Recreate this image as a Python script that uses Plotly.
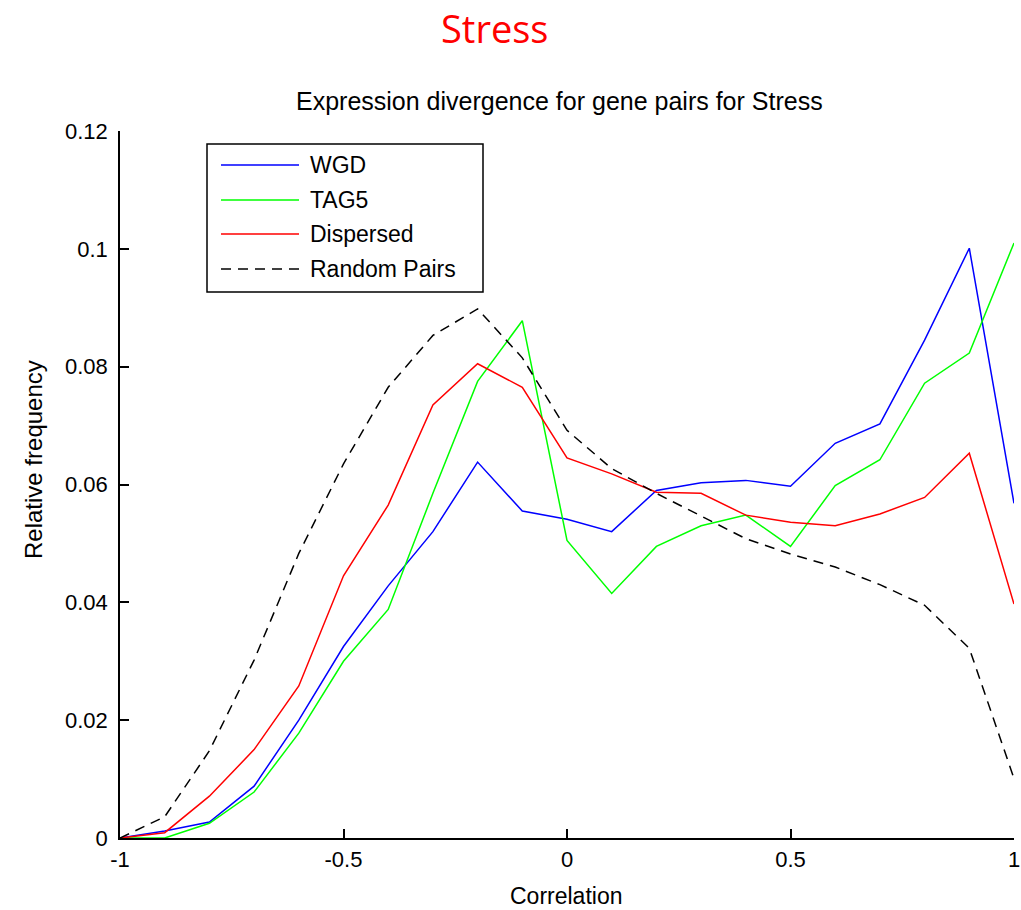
import plotly.graph_objects as go

# Correlation bins
correlation = [-1.0, -0.9, -0.8, -0.7, -0.6, -0.5, -0.4, -0.3, -0.2, -0.1, 0.0,
               0.1, 0.2, 0.3, 0.4, 0.5, 0.6, 0.7, 0.8, 0.9, 1.0]

# Relative frequency per gene-pair class
wgd = [0.0, 0.0012, 0.0027, 0.0088, 0.0200, 0.0325, 0.0428, 0.0520, 0.0638, 0.0555, 0.0541,
       0.0520, 0.0590, 0.0603, 0.0607, 0.0597, 0.0670, 0.0703, 0.0845, 0.1001, 0.0568]
tag5 = [0.0, 0.0, 0.0025, 0.0078, 0.0178, 0.0300, 0.0388, 0.0585, 0.0775, 0.0878, 0.0505,
        0.0415, 0.0495, 0.0530, 0.0548, 0.0495, 0.0598, 0.0642, 0.0772, 0.0823, 0.1010]
dispersed = [0.0, 0.0009, 0.0071, 0.0150, 0.0258, 0.0445, 0.0565, 0.0735, 0.0805, 0.0765, 0.0645,
             0.0618, 0.0587, 0.0585, 0.0548, 0.0536, 0.0530, 0.0550, 0.0578, 0.0653, 0.0397]
random_pairs = [0.0, 0.0036, 0.0148, 0.0302, 0.0483, 0.0635, 0.0765, 0.0853, 0.0898, 0.0815, 0.0692,
                0.0627, 0.0585, 0.0547, 0.0508, 0.0482, 0.0460, 0.0430, 0.0395, 0.0322, 0.0101]

series_names = ["WGD", "TAG5", "Dispersed", "Random Pairs"]
series_values = [wgd, tag5, dispersed, random_pairs]
series_colors = ["#0000ff", "#00ff00", "#ff0000", "#000000"]
series_dash = ["solid", "solid", "solid", "10px,7px"]

x_tickvals = [-1, -0.5, 0, 0.5, 1]
x_ticktext = ["-1", "-0.5", "0", "0.5", "1"]
y_tickvals = [0, 0.02, 0.04, 0.06, 0.08, 0.1, 0.12]
y_ticktext = ["0", "0.02", "0.04", "0.06", "0.08", "0.1", "0.12"]

W, H = 1021, 910
ML, MR, MT, MB = 120, 7, 131, 72
PW, PH = W - ML - MR, H - MT - MB
FONT = "Liberation Sans, Arial, sans-serif"


def px_x(px):
    return (px - ML) / PW


def px_y(py):
    return (H - MB - py) / PH


fig = go.Figure()
for name, vals, col, dash in zip(series_names, series_values, series_colors, series_dash):
    fig.add_trace(go.Scatter(x=correlation, y=vals, mode="lines", name=name,
                             line=dict(color=col, width=1.5, dash=dash),
                             showlegend=False))

axis_common = dict(showgrid=False, zeroline=False, showline=True, linecolor="black",
                   linewidth=1.5, ticks="inside", ticklen=9, tickwidth=1.5,
                   tickcolor="black", mirror=False, ticklabeloverflow="allow",
                   automargin=False,
                   tickfont=dict(family=FONT, size=22, color="black"))

fig.update_xaxes(range=[-1, 1], tickvals=x_tickvals, ticktext=x_ticktext,
                 ticklabelstandoff=1, **axis_common)
fig.update_yaxes(range=[0, 0.12], tickvals=y_tickvals, ticktext=y_ticktext,
                 ticklabelstandoff=6, **axis_common)

# Legend box drawn by hand
shapes = [dict(type="rect", xref="paper", yref="paper",
               x0=px_x(207), x1=px_x(483), y0=px_y(292), y1=px_y(144),
               line=dict(color="black", width=1.5), fillcolor="white", layer="above")]
annotations = []
row_y = [165, 200, 234, 269]
for name, col, dash, ry in zip(series_names, series_colors, series_dash, row_y):
    shapes.append(dict(type="line", xref="paper", yref="paper",
                       x0=px_x(221), x1=px_x(299), y0=px_y(ry), y1=px_y(ry),
                       line=dict(color=col, width=1.5, dash=dash), layer="above"))
    annotations.append(dict(text=name, xref="paper", yref="paper",
                            x=px_x(308), y=px_y(ry), xanchor="left", yanchor="middle",
                            showarrow=False, font=dict(family=FONT, size=23, color="black")))

annotations += [
    dict(text="Stress", xref="paper", yref="paper", x=px_x(494), y=px_y(28),
         xanchor="center", yanchor="middle", showarrow=False,
         font=dict(family="Open Sans, Carlito, sans-serif", size=38, color="#ff0000")),
    dict(text="Expression divergence for gene pairs for Stress", xref="paper", yref="paper",
         x=px_x(559), y=px_y(101), xanchor="center", yanchor="middle", showarrow=False,
         font=dict(family=FONT, size=25, color="black")),
    dict(text="Correlation", xref="paper", yref="paper", x=px_x(566), y=px_y(896),
         xanchor="center", yanchor="middle", showarrow=False,
         font=dict(family=FONT, size=23, color="black")),
    dict(text="Relative frequency", xref="paper", yref="paper", x=px_x(33), y=px_y(460),
         xanchor="center", yanchor="middle", showarrow=False, textangle=-90,
         font=dict(family=FONT, size=24, color="black")),
]

fig.update_layout(width=W, height=H, margin=dict(l=ML, r=MR, t=MT, b=MB, autoexpand=False),
                  paper_bgcolor="white", plot_bgcolor="white",
                  shapes=shapes, annotations=annotations, showlegend=False)

fig.write_html("out.html")
